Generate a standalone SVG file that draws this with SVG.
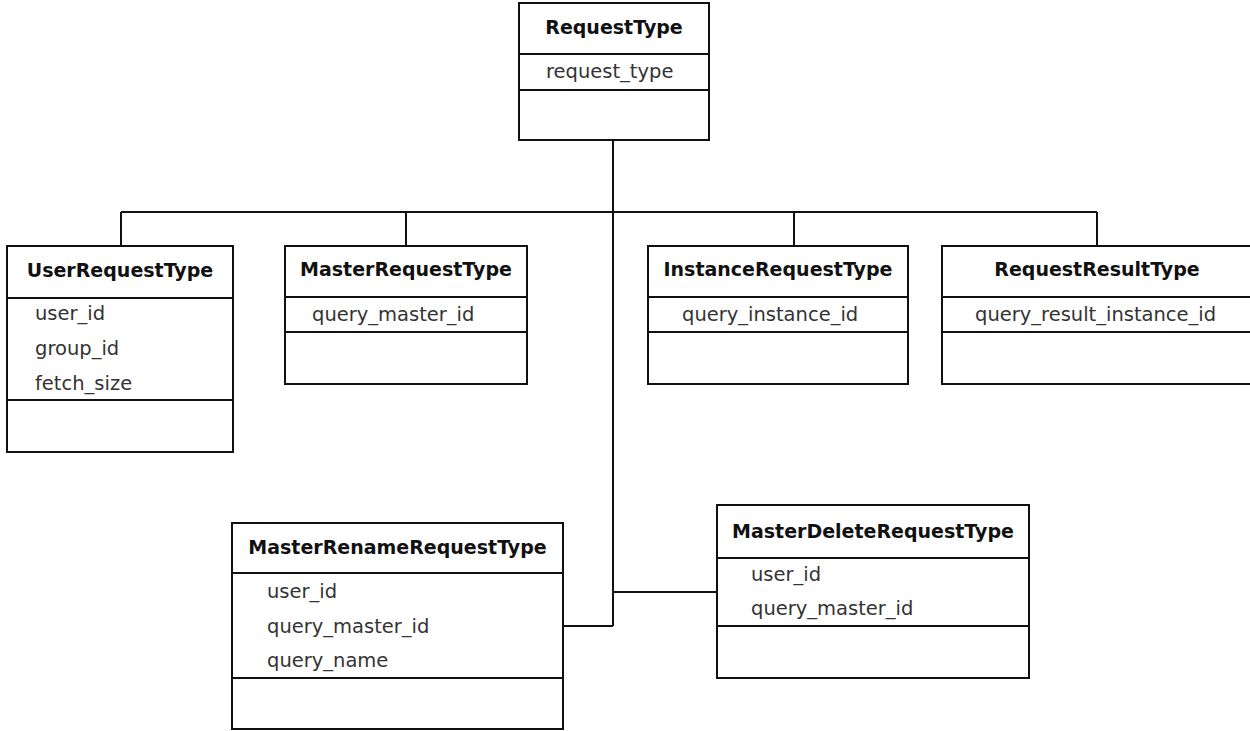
<svg xmlns="http://www.w3.org/2000/svg" width="1250" height="731" viewBox="0 0 1250 731">
<style>
.box{fill:#fff;stroke:#111;stroke-width:2}
.div{stroke:#111;stroke-width:2}
.conn{fill:none;stroke:#111;stroke-width:2}
.title{font-family:"DejaVu Sans",Verdana,sans-serif;font-weight:bold;font-size:19px;fill:#111;text-anchor:middle}
.attr{font-family:"DejaVu Sans",Verdana,sans-serif;font-size:19.5px;fill:#333}
</style>
<rect width="1250" height="731" fill="#fff"/>
<g id="connectors">
<path class="conn" d="M613,140 V626 M121,212 H1097 M121,212 V246 M406,212 V246 M794,212 V246 M1097,212 V246 M563,626 H613 M613,592 H717"/>
</g>
<g id="RequestType">
<rect class="box" x="519" y="3" width="190" height="137"/>
<line class="div" x1="519" y1="54" x2="709" y2="54"/>
<line class="div" x1="519" y1="90" x2="709" y2="90"/>
<text class="title" x="614" y="34">RequestType</text>
<text class="attr" x="546" y="78">request_type</text>
</g>
<g id="UserRequestType">
<rect class="box" x="7" y="246" width="226" height="206"/>
<line class="div" x1="7" y1="298" x2="233" y2="298"/>
<line class="div" x1="7" y1="400" x2="233" y2="400"/>
<text class="title" x="120" y="277">UserRequestType</text>
<text class="attr" x="35" y="320">user_id</text>
<text class="attr" x="35" y="355">group_id</text>
<text class="attr" x="35" y="390">fetch_size</text>
</g>
<g id="MasterRequestType">
<rect class="box" x="285" y="246" width="242" height="138"/>
<line class="div" x1="285" y1="297" x2="527" y2="297"/>
<line class="div" x1="285" y1="332" x2="527" y2="332"/>
<text class="title" x="406" y="276">MasterRequestType</text>
<text class="attr" x="312" y="321">query_master_id</text>
</g>
<g id="InstanceRequestType">
<rect class="box" x="648" y="246" width="260" height="138"/>
<line class="div" x1="648" y1="297" x2="908" y2="297"/>
<line class="div" x1="648" y1="332" x2="908" y2="332"/>
<text class="title" x="778" y="276">InstanceRequestType</text>
<text class="attr" x="682" y="321">query_instance_id</text>
</g>
<g id="RequestResultType">
<rect class="box" x="942" y="246" width="312" height="138"/>
<line class="div" x1="942" y1="297" x2="1254" y2="297"/>
<line class="div" x1="942" y1="332" x2="1254" y2="332"/>
<text class="title" x="1097" y="276">RequestResultType</text>
<text class="attr" x="975" y="321">query_result_instance_id</text>
</g>
<g id="MasterRenameRequestType">
<rect class="box" x="232" y="523" width="331" height="206"/>
<line class="div" x1="232" y1="573" x2="563" y2="573"/>
<line class="div" x1="232" y1="678" x2="563" y2="678"/>
<text class="title" x="397.5" y="554">MasterRenameRequestType</text>
<text class="attr" x="267" y="598">user_id</text>
<text class="attr" x="267" y="633">query_master_id</text>
<text class="attr" x="267" y="667">query_name</text>
</g>
<g id="MasterDeleteRequestType">
<rect class="box" x="717" y="505" width="312" height="173"/>
<line class="div" x1="717" y1="558" x2="1029" y2="558"/>
<line class="div" x1="717" y1="626" x2="1029" y2="626"/>
<text class="title" x="873" y="538">MasterDeleteRequestType</text>
<text class="attr" x="751" y="581">user_id</text>
<text class="attr" x="751" y="615">query_master_id</text>
</g>
</svg>
